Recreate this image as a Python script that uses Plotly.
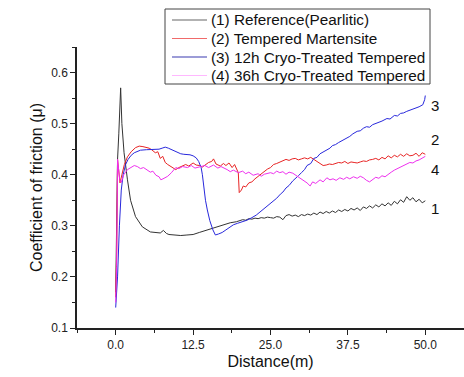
import plotly.graph_objects as go

# ---------------- data ----------------
ref_x = [0.0, 0.15, 0.3, 0.5, 0.8, 1.0, 1.35, 1.9, 2.4, 3.2, 4.3, 5.6, 6.4, 7.2, 7.7, 8.2, 8.6,
         9.5, 10.5, 11.5, 12.5, 13.5, 14.5, 15.5, 16.5, 17.5, 18.5, 19.5,
         20.0, 20.5, 21.0, 21.5, 22.0, 22.5, 23.0, 23.5, 24.0, 24.5, 25.0, 25.5, 26.0, 26.5, 27.0, 27.5,
         28.0, 28.5, 29.0, 29.5, 30.0, 30.5, 31.0, 31.5, 32.0, 32.5, 33.0, 33.5, 34.0, 34.5, 35.0, 35.5,
         36.0, 36.5, 37.0, 37.5, 38.0, 38.5, 39.0, 39.5, 40.0, 40.5, 41.0, 41.5, 42.0, 42.5, 43.0, 43.5,
         44.0, 44.5, 45.0, 45.5, 46.0, 46.5, 47.0, 47.5, 48.0, 48.5, 49.0, 49.5, 50.0]
ref_y = [0.17, 0.30, 0.43, 0.48, 0.57, 0.50, 0.443, 0.39, 0.35, 0.318, 0.298, 0.288, 0.287, 0.286, 0.291, 0.285, 0.283,
         0.282, 0.281, 0.282, 0.283, 0.287, 0.291, 0.295, 0.298, 0.302, 0.306, 0.308,
         0.310, 0.312, 0.311, 0.314, 0.313, 0.315, 0.314, 0.316, 0.315, 0.317, 0.316, 0.315, 0.318, 0.317, 0.312, 0.320,
         0.322, 0.319, 0.321, 0.318, 0.322, 0.320, 0.323, 0.321, 0.325, 0.322, 0.327, 0.324, 0.328, 0.325, 0.329, 0.326,
         0.331, 0.328, 0.332, 0.329, 0.334, 0.331, 0.335, 0.330, 0.337, 0.334, 0.339, 0.335, 0.341, 0.337, 0.343, 0.339,
         0.345, 0.340, 0.348, 0.343, 0.351, 0.346, 0.357, 0.350, 0.355, 0.347, 0.352, 0.345, 0.349]

tm_x = [0.0, 0.16, 0.3, 0.5, 0.7, 1.0, 1.4, 1.9, 2.5, 3.2, 3.8, 4.4, 5.0, 5.4, 5.8, 6.4, 6.8, 7.2, 7.6, 8.0,
        8.4, 9.0, 9.7, 10.2, 10.8, 11.3, 11.8, 12.5, 13.0, 13.5, 14.0, 14.5, 15.0, 15.5, 15.8, 16.2, 16.9,
        17.4, 17.8, 18.3, 18.8, 19.2, 19.6, 19.8, 19.95, 20.3, 20.6, 21.0, 21.5, 22.0, 22.5, 23.0, 23.5,
        24.0, 24.5, 25.0, 25.5, 26.0, 26.5, 27.0, 27.5, 28.0, 28.5, 29.0, 29.5, 30.0, 30.5, 31.0, 31.5,
        32.0, 32.5, 33.0, 33.5, 34.0, 34.5, 35.0, 35.5, 36.0, 36.5, 37.0, 37.5, 38.0, 38.5, 39.0, 39.5,
        40.0, 40.5, 41.0, 41.5, 42.0, 42.5, 43.0, 43.5, 44.0, 44.5, 45.0, 45.5, 46.0, 46.5, 47.0, 47.5,
        48.0, 48.5, 49.0, 49.5, 50.0]
tm_y = [0.16, 0.25, 0.43, 0.40, 0.384, 0.40, 0.42, 0.435, 0.445, 0.453, 0.456, 0.455, 0.454, 0.452, 0.449, 0.443, 0.445, 0.432, 0.436, 0.424,
        0.42, 0.415, 0.41, 0.414, 0.418, 0.42, 0.417, 0.423, 0.419, 0.418, 0.415, 0.419, 0.424, 0.426, 0.431, 0.421, 0.417,
        0.422, 0.418, 0.423, 0.414, 0.42, 0.41, 0.404, 0.365, 0.37, 0.378, 0.376, 0.384, 0.386, 0.392, 0.397, 0.402,
        0.406, 0.411, 0.414, 0.42, 0.422, 0.425, 0.427, 0.43, 0.428, 0.431, 0.432, 0.429, 0.431, 0.433, 0.431, 0.434,
        0.43, 0.426, 0.421, 0.418, 0.419, 0.421, 0.42, 0.422, 0.424, 0.423, 0.426, 0.422, 0.425, 0.424, 0.423, 0.425,
        0.427, 0.426, 0.429, 0.43, 0.432, 0.429, 0.434, 0.431, 0.437, 0.433, 0.438, 0.435, 0.44, 0.436, 0.441, 0.437,
        0.438, 0.442, 0.436, 0.443, 0.44]

c12_x = [0.0, 0.3, 0.6, 0.9, 1.2, 1.6, 2.0, 2.5, 3.0, 3.5, 4.0, 5.0, 6.0, 7.0, 7.5, 8.0, 8.5, 9.0, 9.5, 10.0,
         10.5, 11.0, 11.5, 12.0, 12.5, 13.0, 13.4, 13.8, 14.0, 14.2, 14.5, 14.8, 15.2, 15.7, 16.1, 16.6, 17.2,
         17.8, 18.5, 19.0, 19.7, 20.5, 21.2, 22.0, 22.7, 23.3, 24.0, 24.5, 25.0, 25.5, 26.0, 26.6, 27.0, 27.5,
         28.0, 28.6, 29.0, 29.5, 30.0, 30.5, 30.9, 31.5, 32.0, 32.5, 33.0, 33.5, 34.1, 34.6, 35.0, 35.5, 36.0,
         36.6, 37.3, 37.8, 38.3, 39.0, 39.5, 40.0, 40.5, 41.0, 41.5, 42.0, 42.5, 43.0, 43.8, 44.3, 45.0, 45.5,
         46.0, 46.5, 47.0, 47.5, 48.0, 48.5, 49.0, 49.6, 49.9, 50.0]
c12_y = [0.14, 0.20, 0.30, 0.37, 0.40, 0.42, 0.43, 0.438, 0.443, 0.446, 0.448, 0.449, 0.449, 0.45, 0.452, 0.454, 0.452, 0.449, 0.446, 0.443,
         0.441, 0.440, 0.440, 0.439, 0.437, 0.433, 0.426, 0.414, 0.40, 0.376, 0.35, 0.331, 0.31, 0.292, 0.282, 0.284, 0.287,
         0.292, 0.297, 0.302, 0.305, 0.308, 0.311, 0.316, 0.321, 0.327, 0.334, 0.338, 0.343, 0.348, 0.354, 0.362, 0.366, 0.374,
         0.379, 0.388, 0.392, 0.398, 0.404, 0.41, 0.418, 0.422, 0.432, 0.434, 0.441, 0.444, 0.449, 0.452, 0.457, 0.459, 0.463,
         0.467, 0.473, 0.475, 0.48, 0.485, 0.486, 0.491, 0.494, 0.493, 0.498, 0.5, 0.503, 0.505, 0.51, 0.509, 0.516, 0.515,
         0.52, 0.521, 0.524, 0.526, 0.528, 0.531, 0.533, 0.537, 0.547, 0.555]

c36_x = [0.0, 0.15, 0.3, 0.45, 0.65, 0.9, 1.3, 1.9, 2.5, 3.0, 3.5, 4.0, 4.5, 5.0, 5.6, 6.0, 6.5, 7.0, 7.3, 7.8,
         8.4, 9.0, 9.7, 10.2, 10.8, 11.6, 12.2, 12.8, 13.7, 14.4, 15.0, 15.8, 16.5, 17.0, 18.0, 18.5, 19.0,
         19.8, 20.5, 21.0, 21.5, 22.2, 23.0, 23.5, 24.0, 25.0, 25.5, 26.0, 26.5, 27.0, 27.5, 28.0, 28.6, 29.2,
         29.8, 30.3, 30.9, 31.4, 31.8, 32.3, 33.0, 33.5, 34.1, 34.6, 35.1, 35.6, 36.2, 36.8, 37.3, 37.8, 38.4,
         39.0, 39.5, 40.0, 40.5, 41.0, 41.5, 42.0, 42.5, 43.0, 43.5, 44.0, 44.5, 45.0, 45.5, 46.0, 46.5, 47.0,
         47.5, 48.0, 48.5, 49.0, 49.5, 50.0]
c36_y = [0.15, 0.22, 0.43, 0.41, 0.39, 0.385, 0.40, 0.41, 0.414, 0.418, 0.416, 0.412, 0.414, 0.41, 0.405, 0.407, 0.399, 0.396, 0.39, 0.393,
         0.397, 0.404, 0.414, 0.412, 0.416, 0.414, 0.418, 0.413, 0.416, 0.418, 0.414, 0.419, 0.413, 0.416, 0.41, 0.406, 0.409,
         0.404, 0.407, 0.402, 0.405, 0.399, 0.402, 0.397, 0.401, 0.404, 0.402, 0.407, 0.404, 0.406, 0.401, 0.405, 0.403, 0.398,
         0.394, 0.39, 0.384, 0.378, 0.386, 0.383, 0.39, 0.386, 0.394, 0.39, 0.392, 0.389, 0.394, 0.391, 0.395, 0.392, 0.396,
         0.393, 0.397, 0.394, 0.389, 0.386, 0.391, 0.395, 0.393, 0.398, 0.396, 0.401, 0.405, 0.409, 0.412, 0.415, 0.419, 0.421,
         0.424, 0.423, 0.427, 0.429, 0.432, 0.436]

series_names = ["(1) Reference(Pearlitic)", "(2) Tempered Martensite",
                "(3) 12h Cryo-Treated Tempered", "(4) 36h Cryo-Treated Tempered"]
curve_labels = ["1", "2", "3", "4"]
label_y = [0.333, 0.469, 0.535, 0.41]
x_ticks = [0.0, 12.5, 25.0, 37.5, 50.0]
x_tick_text = ["0.0", "12.5", "25.0", "37.5", "50.0"]
y_ticks = [0.1, 0.2, 0.3, 0.4, 0.5, 0.6]
y_tick_text = ["0.1", "0.2", "0.3", "0.4", "0.5", "0.6"]

colors = ["#333333", "#e82424", "#2828dc", "#ee30ee"]
legend_colors = ["#666666", "#f06a6a", "#3a3ab0", "#ffb8ff"]

FONT = "Liberation Sans, Arial, sans-serif"

fig = go.Figure()
for xs, ys, name, col in zip([ref_x, tm_x, c12_x, c36_x], [ref_y, tm_y, c12_y, c36_y], series_names, colors):
    fig.add_trace(go.Scatter(x=xs, y=ys, mode="lines", name=name, showlegend=False,
                             line=dict(color=col, width=1)))

for lab, ly in zip(curve_labels, label_y):
    fig.add_annotation(x=50.6, y=ly, text=lab, showarrow=False, xanchor="left", yanchor="middle",
                       font=dict(family=FONT, size=15, color="#111"))

# legend box drawn in paper coordinates (plot area: 77..464 px wide, 47..328 px tall)
def px_x(p):
    return (p - 77) / 387.0

def px_y(p):
    return (328 - p) / 281.0

fig.add_shape(type="rect", xref="paper", yref="paper",
              x0=px_x(165), x1=px_x(430), y0=px_y(84), y1=px_y(9),
              line=dict(color="#444", width=1), fillcolor="white", layer="above")
row_py = [20, 38.5, 57, 75.5]
for name, col, ry in zip(series_names, legend_colors, row_py):
    fig.add_shape(type="line", xref="paper", yref="paper",
                  x0=px_x(172), x1=px_x(207), y0=px_y(ry), y1=px_y(ry),
                  line=dict(color=col, width=1.2), layer="above")
    fig.add_annotation(xref="paper", yref="paper", x=px_x(209), y=px_y(ry), text=name,
                       showarrow=False, xanchor="left", yanchor="middle",
                       font=dict(family=FONT, size=15.3, color="#111"))

fig.update_layout(
    width=464, height=377,
    margin=dict(l=77, r=0, t=47, b=49),
    paper_bgcolor="white", plot_bgcolor="white",
    font=dict(family=FONT, color="#222"),
    showlegend=False,
    xaxis=dict(range=[-6.25, 56.25], tickmode="array", tickvals=x_ticks, ticktext=x_tick_text,
               ticks="outside", ticklen=5, tickwidth=1, tickcolor="#222",
               showline=True, linecolor="#222", linewidth=1.5, showgrid=False, zeroline=False,
               minor=dict(ticks="outside", ticklen=3, dtick=6.25, tick0=0, tickcolor="#222", showgrid=False),
               tickfont=dict(family=FONT, size=12, color="#222"),
               title=dict(text="Distance(m)", font=dict(family=FONT, size=16, color="#111"), standoff=5)),
    yaxis=dict(range=[0.1, 0.65], tickmode="array", tickvals=y_ticks, ticktext=y_tick_text,
               ticks="outside", ticklen=5, tickwidth=1, tickcolor="#222",
               showline=True, linecolor="#222", linewidth=1.5, showgrid=False, zeroline=False,
               minor=dict(ticks="outside", ticklen=3, dtick=0.05, tick0=0.1, tickcolor="#222", showgrid=False),
               tickfont=dict(family=FONT, size=12, color="#222"),
               title=dict(text="Coefficient of friction (μ)", font=dict(family=FONT, size=16, color="#111"), standoff=5)),
)

fig.write_html("out.html")
